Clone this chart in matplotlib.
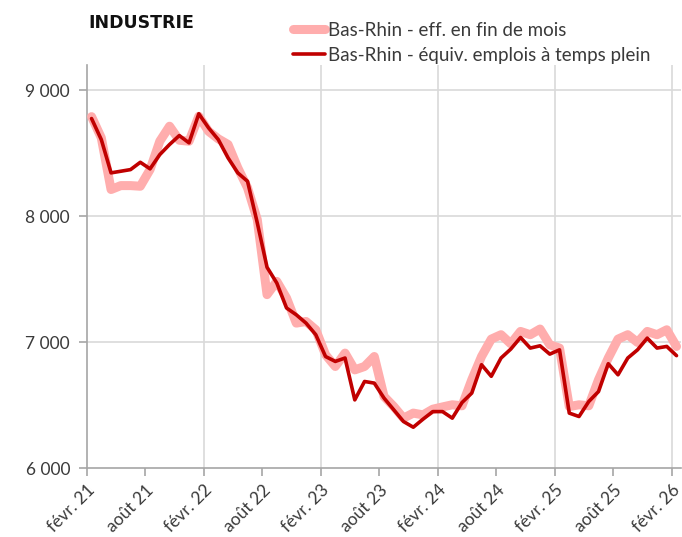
import matplotlib
matplotlib.use("Agg")
import matplotlib.pyplot as plt
import numpy as np

plt.rcParams['font.family'] = ['Lato', 'DejaVu Sans']

title = "INDUSTRIE"
series_eff_label = "Bas-Rhin - eff. en fin de mois"
series_etp_label = "Bas-Rhin - équiv. emplois à temps plein"

# Monthly values, févr. 21 -> févr. 26 (61 months)
eff_fin_mois = [
    8790, 8622, 8212, 8243, 8243, 8238, 8370, 8595, 8714, 8603,
    8595, 8793, 8674, 8614, 8569, 8384, 8225, 7973, 7378, 7483,
    7351, 7152, 7165, 7099, 6901, 6808, 6914, 6781, 6808, 6887,
    6570, 6490, 6398, 6438, 6424, 6469, 6487, 6504, 6496, 6703,
    6887, 7025, 7060, 6988, 7086, 7060, 7105, 6980, 6954, 6490,
    6504, 6496, 6703, 6875, 7025, 7060, 6999, 7086, 7060, 7099,
    6967,
]
equiv_temps_plein = [
    8775, 8608, 8344, 8357, 8370, 8428, 8376, 8489, 8569, 8640,
    8582, 8813, 8701, 8608, 8463, 8344, 8277, 7947, 7595, 7470,
    7272, 7218, 7152, 7060, 6887, 6848, 6875, 6543, 6689, 6676,
    6557, 6464, 6371, 6326, 6390, 6450, 6450, 6398, 6522, 6597,
    6822, 6730, 6875, 6946, 7038, 6954, 6972, 6906, 6940, 6438,
    6411, 6530, 6609, 6830, 6742, 6875, 6940, 7033, 6954, 6967,
    6894,
]
tick_labels = ["févr. 21", "août 21", "févr. 22", "août 22", "févr. 23", "août 23",
               "févr. 24", "août 24", "févr. 25", "août 25", "févr. 26"]
y_ticks = [6000, 7000, 8000, 9000]
y_tick_labels = ["6 000", "7 000", "8 000", "9 000"]

n = len(eff_fin_mois)
x = np.arange(n) + 0.5

fig = plt.figure(figsize=(6.82, 5.37), dpi=100)
ax = fig.add_axes([0.1271, 0.1279, 0.872, 0.7511])

text_col = "#3a3a3a"
axis_col = "#a6a6a6"
grid_col = "#d9d9d9"

ax.plot(x, eff_fin_mois, color="#ffadad", lw=6.5, solid_joinstyle="round",
        solid_capstyle="round", label=series_eff_label, zorder=3)
ax.plot(x, equiv_temps_plein, color="#c00000", lw=2.6, solid_joinstyle="round",
        solid_capstyle="round", label=series_etp_label, zorder=4)

ax.set_xlim(0, n)
ax.set_ylim(6000, 9200)

ax.set_yticks(y_ticks)
ax.set_yticklabels(y_tick_labels)
ax.set_xticks(np.arange(0, n, 6))
ax.set_xticklabels(tick_labels, rotation=45, ha="right", va="top",
                   rotation_mode="anchor")

# grid: horizontal at each y tick, vertical yearly
for yv in y_ticks[1:]:
    ax.axhline(yv, color=grid_col, lw=1.2, zorder=1)
for xv in range(12, n, 12):
    ax.axvline(xv, color=grid_col, lw=1.2, zorder=1)

for s in ["top", "right"]:
    ax.spines[s].set_visible(False)
for s in ["left", "bottom"]:
    ax.spines[s].set_color(axis_col)
    ax.spines[s].set_linewidth(1.2)

ax.tick_params(axis="both", colors=axis_col, length=6, width=1.2,
               labelcolor=text_col, labelsize=12.5)
ax.tick_params(axis="y", pad=6)
ax.tick_params(axis="x", pad=4)

fig.text(88 / 682, 1 - 23 / 537, title, fontsize=12.5, fontweight="bold",
         family=["DejaVu Sans"], color="#111111", va="center", ha="left")

leg = fig.legend(loc="upper left", bbox_to_anchor=(285 / 682, 1 - 14 / 537),
                 frameon=False, prop={"size": 13.5},
                 handlelength=1.75, handletextpad=0.15, labelspacing=0.45,
                 borderaxespad=0)
for t in leg.get_texts():
    t.set_color(text_col)

fig.savefig("out.png", dpi=100)
